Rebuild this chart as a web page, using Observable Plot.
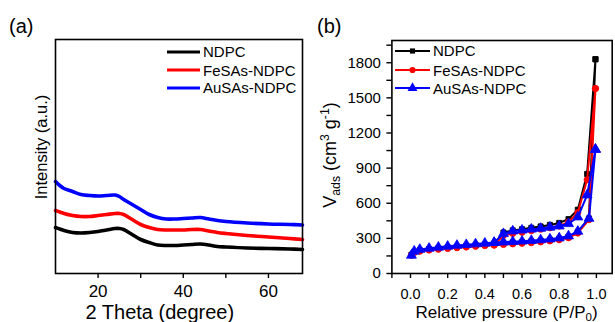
<!DOCTYPE html>
<html>
<head>
<meta charset="utf-8">
<script src="https://cdn.jsdelivr.net/npm/d3@7"></script>
<script src="https://cdn.jsdelivr.net/npm/@observablehq/plot@0.6"></script>
<style>
  html, body { margin: 0; padding: 0; background: #fff; }
  #root { position: relative; width: 615px; height: 322px; overflow: hidden; font-family: "Liberation Sans", Arial, sans-serif; color: #000; }
  .panel { position: absolute; top: 0; }
  .lbl { position: absolute; white-space: nowrap; line-height: 1; }
  .rot { transform: translate(-50%, -50%) rotate(-90deg); }
  sub, sup { font-size: 0.68em; line-height: 0; }
  sub { vertical-align: -0.3em; }
  sup { vertical-align: 0.55em; }
  .leg { position: absolute; display: flex; align-items: center; font-size: 15px; line-height: 1; white-space: nowrap; }
  .leg svg { display: block; margin-right: 3px; }
</style>
</head>
<body>
<div id="root"></div>
<script>
// ---------- Panel (a): XRD ----------
const xrdTheta = [10,11,12,14,16,18,20,22,24,25,26,28,30,32,34,36,38,40,42,44,46,48,50,55,60,65,68];
const xrdNDPC  = [46,44.5,43,41,40.5,41,42,43.5,45,45,44,39,34,31,28.5,28,28,28.5,29,29.5,28.5,27,26.5,25.5,25,24.5,24];
const xrdFe    = [63,61.5,60,58,57,57,58,59,60,60,59,54,49,46,44,43.5,43.5,43.5,44,44,42.5,41,40,38,36.5,35,34];
const xrdAu    = [92,88,85,82,79,78,77.5,78,78.5,77,74,69,64,59,56,54.5,54.5,55,55.5,56,54.5,53,52,50.5,49.5,49,48.5];
const xTicksA = [20,40,60];
const xMinorA = [30,50];

// ---------- Panel (b): N2 isotherms ----------
const pAds = [0.005,0.02,0.05,0.1,0.15,0.2,0.25,0.3,0.35,0.4,0.45,0.5,0.55,0.6,0.65,0.7,0.75,0.8,0.85,0.9,0.96,0.995];
const pDes = [0.995,0.95,0.9,0.85,0.8,0.75,0.7,0.65,0.6,0.55,0.5,0.45];
const ndpcAds = [160,185,198,208,216,223,230,236,242,248,253,258,263,268,274,281,289,298,315,355,470,1830];
const ndpcDes = [1830,850,545,465,432,415,402,390,378,368,350,253];
const feAds   = [155,178,190,200,207,214,220,226,232,238,243,248,253,258,263,270,278,288,305,345,460,1580];
const feDes   = [1580,800,520,440,405,390,378,365,352,342,325,243];
const auAds   = [155,190,205,215,224,232,240,246,252,258,264,268,272,276,281,287,294,303,320,360,470,1060];
const auDes   = [1060,670,482,425,405,395,385,378,370,362,340,264];
const yTicksB = [0,300,600,900,1200,1500,1800];
const yMinorB = [150,450,750,1050,1350,1650,1950];
const xTicksB = [0,0.2,0.4,0.6,0.8,1.0];
const xMinorB = [-0.1,0.1,0.3,0.5,0.7,0.9];

const seriesNames = ["NDPC","FeSAs-NDPC","AuSAs-NDPC"];
const colors = ["#000000","#ff0000","#0000ff"];
const symbols = ["square","circle","triangle"];
const radii = [2.9,3.1,3.7];

const FONT = '"Liberation Sans", Arial, sans-serif';
const root = document.getElementById("root");

// Panel (a)
const xrdSets = [xrdNDPC, xrdFe, xrdAu];
const xrdRows = xrdSets.map(arr => xrdTheta.map((t,i) => ({t, v: arr[i]})));
const plotA = Plot.plot({
  width: 305, height: 322,
  marginLeft: 55, marginRight: 3, marginTop: 39, marginBottom: 49,
  style: {fontFamily: FONT, color: "#000", background: "transparent", overflow: "visible"},
  x: {domain: [10, 68]},
  y: {domain: [0, 234], axis: null},
  marks: [
    ...xrdRows.map((rows, k) => Plot.line(rows, {x: "t", y: "v", stroke: colors[k], strokeWidth: 3.6, curve: "catmull-rom"})),
    Plot.axisX({ticks: xTicksA, tickSize: 5, tickPadding: 6, fontSize: 17, strokeWidth: 1.4, label: null}),
    Plot.axisX({ticks: xMinorA, tickSize: 5, tickFormat: () => "", strokeWidth: 1.4, label: null}),
    Plot.frame({stroke: "#000", strokeWidth: 1.6})
  ]
});
const divA = document.createElement("div");
divA.className = "panel"; divA.style.left = "0px";
divA.appendChild(plotA);
root.appendChild(divA);

// Panel (b)
function rowsFor(ads, des) {
  return ads.map((v,i) => ({p: pAds[i], v})).concat(des.map((v,i) => ({p: pDes[i], v})));
}
const isoRows = [rowsFor(ndpcAds, ndpcDes), rowsFor(feAds, feDes), rowsFor(auAds, auDes)];
const plotB = Plot.plot({
  width: 310, height: 322,
  marginLeft: 86.4, marginRight: 3.3, marginTop: 40, marginBottom: 49,
  style: {fontFamily: FONT, color: "#000", background: "transparent", overflow: "visible"},
  x: {domain: [-0.1, 1.085]},
  y: {domain: [0, 1990]},
  marks: [
    ...isoRows.flatMap((rows, k) => [
      Plot.line(rows, {x: "p", y: "v", stroke: colors[k], strokeWidth: 2}),
      Plot.dot(rows, {x: "p", y: "v", symbol: () => symbols[k], r: radii[k], fill: colors[k], stroke: colors[k], strokeWidth: 0.8})
    ]),
    Plot.axisX({ticks: xTicksB, tickFormat: d3.format(".1f"), tickSize: 5, tickPadding: 10, fontSize: 14.5, strokeWidth: 1.4, label: null}),
    Plot.axisX({ticks: xMinorB, tickFormat: () => "", tickSize: 5, strokeWidth: 1.4, label: null}),
    Plot.axisY({ticks: yTicksB, tickFormat: d3.format("d"), tickSize: 5, tickPadding: 6, fontSize: 15, strokeWidth: 1.4, label: null}),
    Plot.axisY({ticks: yMinorB, tickFormat: () => "", tickSize: 5, strokeWidth: 1.4, label: null}),
    Plot.frame({stroke: "#000", strokeWidth: 1.6})
  ]
});
const divB = document.createElement("div");
divB.className = "panel"; divB.style.left = "305px";
divB.appendChild(plotB);
root.appendChild(divB);

// Text labels
function addLabel(html, css, cls) {
  const d = document.createElement("div");
  d.className = "lbl" + (cls ? " " + cls : "");
  d.innerHTML = html;
  Object.assign(d.style, css);
  root.appendChild(d);
  return d;
}
addLabel("(a)", {left: "9px", top: "16px", fontSize: "20px"});
addLabel("(b)", {left: "317px", top: "16px", fontSize: "20px"});
addLabel("Intensity (a.u.)", {left: "40.5px", top: "147px", fontSize: "16.5px"}, "rot");
addLabel("V<sub>ads</sub> (cm<sup>3</sup> g<sup>-1</sup>)", {left: "330px", top: "155px", fontSize: "18px"}, "rot");
const tA = addLabel("2 Theta (degree)", {top: "302px", fontSize: "20px"});
tA.style.left = (160 - tA.offsetWidth / 2) + "px";
const tB = addLabel("Relative pressure (P/P<sub>0</sub>)", {top: "303.5px", fontSize: "17px"});
tB.style.left = (506.5 - tB.offsetWidth / 2) + "px";

// Legends
function addLegend(x0, lineLen, withMarker, ys) {
  seriesNames.forEach((name, k) => {
    const d = document.createElement("div");
    d.className = "leg";
    d.style.left = x0 + "px";
    d.style.top = (ys[k] - 9) + "px";
    d.style.height = "18px";
    const ns = "http://www.w3.org/2000/svg";
    const svg = document.createElementNS(ns, "svg");
    svg.setAttribute("width", lineLen); svg.setAttribute("height", 18);
    const ln = document.createElementNS(ns, "line");
    ln.setAttribute("x1", 0); ln.setAttribute("x2", lineLen);
    ln.setAttribute("y1", 9); ln.setAttribute("y2", 9);
    ln.setAttribute("stroke", colors[k]); ln.setAttribute("stroke-width", withMarker ? 2 : 3);
    svg.appendChild(ln);
    if (withMarker) {
      const sym = d3.symbol().type([d3.symbolSquare, d3.symbolCircle, d3.symbolTriangle][k]).size(Math.PI * radii[k] * radii[k]);
      const p = document.createElementNS(ns, "path");
      p.setAttribute("d", sym());
      p.setAttribute("transform", `translate(${lineLen/2},9)`);
      p.setAttribute("fill", colors[k]);
      svg.appendChild(p);
    }
    d.appendChild(svg);
    const s = document.createElement("span");
    s.textContent = name;
    d.appendChild(s);
    root.appendChild(d);
  });
}
addLegend(167, 33, false, [51.5, 70, 87.5]);
addLegend(395, 35, true, [50.7, 70, 88.3]);
</script>
</body>
</html>
